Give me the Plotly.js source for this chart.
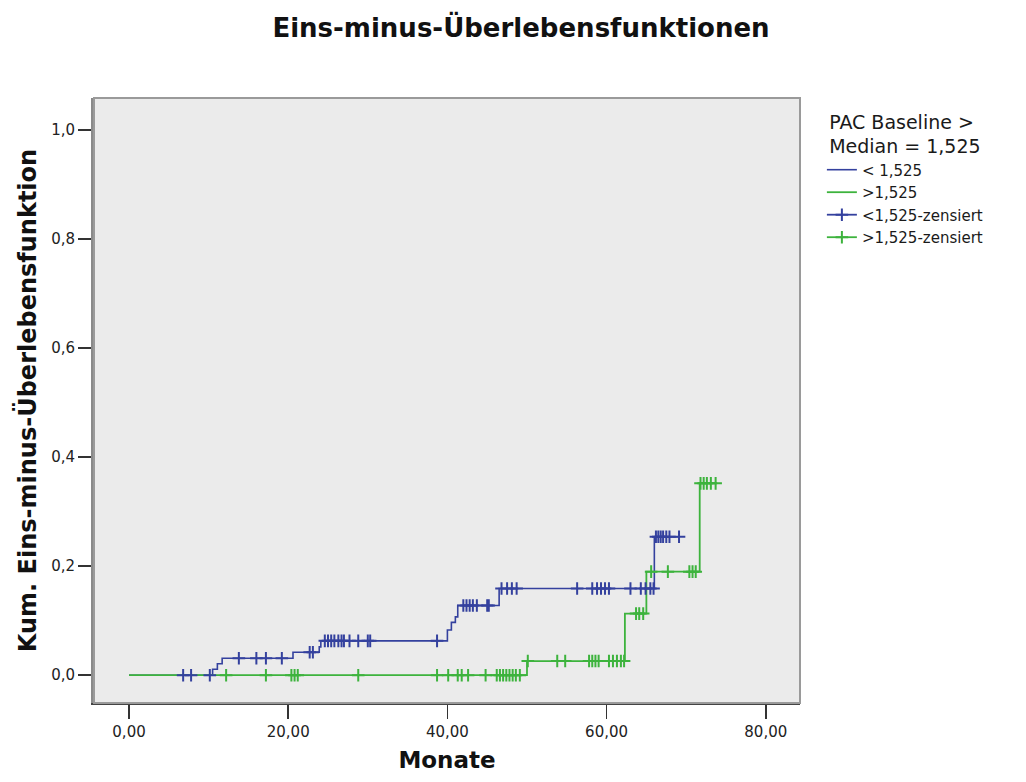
<!DOCTYPE html>
<html>
<head>
<meta charset="utf-8">
<script src="https://cdn.plot.ly/plotly-3.0.1.min.js"></script>
<style>
  html, body { margin: 0; padding: 0; background: #ffffff; }
  #chart { width: 1026px; height: 782px; }
</style>
</head>
<body>
<div id="chart"></div>
<script>
// Kaplan-Meier curves (cumulative incidence, 1 - S(t)) by PAC baseline group

// Group "< 1,525": event times and step levels
const lowTimes  = [0, 10.5, 11.1, 11.7, 20.6, 23.9, 24.1, 40.0, 40.5, 41.0, 41.3, 46.5, 66.0, 69.1];
const lowLevels = [0, 0.011, 0.021, 0.031, 0.042, 0.052, 0.063, 0.083, 0.097, 0.107, 0.128, 0.159, 0.254, 0.254];

// Group ">1,525": event times and step levels
const highTimes  = [0, 50.0, 62.3, 65.0, 71.7, 73.7];
const highLevels = [0, 0.026, 0.113, 0.190, 0.352, 0.352];

// Censored observations, "< 1,525"
const lowCensTimes = [6.8, 7.8, 10.15,
  13.8, 16.0, 17.2, 19.2,
  22.7, 23.1,
  24.6, 25.0, 25.4, 25.8, 26.3, 26.7, 27.0, 27.7, 28.8, 30.0, 30.3, 38.7,
  42.0, 42.4, 42.8, 43.2, 43.7, 45.0, 45.2,
  46.8, 47.5, 48.1, 48.7, 56.3, 58.2, 58.8, 59.3, 59.8, 60.3, 63.0, 64.3, 64.9, 65.5, 65.9,
  66.2, 66.5, 66.8, 67.1, 67.5, 67.9, 69.1];
const lowCensLevels = [0, 0, 0,
  0.031, 0.031, 0.031, 0.031,
  0.042, 0.042,
  0.063, 0.063, 0.063, 0.063, 0.063, 0.063, 0.063, 0.063, 0.063, 0.063, 0.063, 0.063,
  0.128, 0.128, 0.128, 0.128, 0.128, 0.128, 0.128,
  0.159, 0.159, 0.159, 0.159, 0.159, 0.159, 0.159, 0.159, 0.159, 0.159, 0.159, 0.159, 0.159, 0.159, 0.159,
  0.254, 0.254, 0.254, 0.254, 0.254, 0.254, 0.254];

// Censored observations, ">1,525"
const highCensTimes = [12.2, 17.2, 20.4, 20.8, 21.2, 28.8, 38.7, 40.1, 41.3, 41.8, 42.6, 44.8,
  46.2, 46.6, 47.0, 47.4, 47.8, 48.2, 48.6, 49.1,
  50.1, 53.8, 54.8, 57.8, 58.2, 58.6, 59.0, 60.3, 60.8, 61.3, 61.8, 62.2,
  63.7, 64.1, 64.6,
  65.6, 67.7, 70.4, 70.8, 71.2,
  71.8, 72.2, 72.6, 73.1, 73.7];
const highCensLevels = [0, 0, 0, 0, 0, 0, 0, 0, 0, 0, 0, 0,
  0, 0, 0, 0, 0, 0, 0, 0,
  0.026, 0.026, 0.026, 0.026, 0.026, 0.026, 0.026, 0.026, 0.026, 0.026, 0.026, 0.026,
  0.113, 0.113, 0.113,
  0.190, 0.190, 0.190, 0.190, 0.190,
  0.352, 0.352, 0.352, 0.352, 0.352];

const groupNames = ['< 1,525', '>1,525', '<1,525-zensiert', '>1,525-zensiert'];
const xTicks = [0, 20, 40, 60, 80];
const yTicks = [0, 0.2, 0.4, 0.6, 0.8, 1.0];

const blue = '#34419E';
const green = '#3DB33D';
const fontMain = 'DejaVu Sans, Verdana, sans-serif';

// Separate each censor mark with a gap so no line joins them in the plot,
// while the legend still shows a short line through the cross.
function gapped(arr) {
  const out = [];
  arr.forEach(v => { out.push(v); out.push(null); });
  return out;
}

const traces = [
  {
    x: lowTimes, y: lowLevels, name: groupNames[0],
    type: 'scatter', mode: 'lines',
    line: { color: blue, width: 1.6, shape: 'hv' }
  },
  {
    x: highTimes, y: highLevels, name: groupNames[1],
    type: 'scatter', mode: 'lines',
    line: { color: green, width: 1.8, shape: 'hv' }
  },
  {
    x: gapped(lowCensTimes), y: gapped(lowCensLevels), name: groupNames[2],
    type: 'scatter', mode: 'lines+markers', connectgaps: false,
    line: { color: blue, width: 1.8 },
    marker: { symbol: 'cross-thin-open', size: 9, color: blue, line: { color: blue, width: 2 } }
  },
  {
    x: gapped(highCensTimes), y: gapped(highCensLevels), name: groupNames[3],
    type: 'scatter', mode: 'lines+markers', connectgaps: false,
    line: { color: green, width: 1.8 },
    marker: { symbol: 'cross-thin-open', size: 9, color: green, line: { color: green, width: 2 } }
  }
];

const layout = {
  width: 1026, height: 782,
  margin: { l: 94, r: 226, t: 98, b: 79 },
  paper_bgcolor: '#ffffff',
  plot_bgcolor: '#EBEBEB',
  separators: ',.',
  font: { family: fontMain, color: '#1a1a1a' },
  title: {
    text: '<b>Eins-minus-Überlebensfunktionen</b>',
    font: { family: fontMain, size: 26, color: '#111' },
    x: 521 / 1026, xanchor: 'center', xref: 'container',
    y: 1 - 28 / 782, yanchor: 'middle', yref: 'container'
  },
  xaxis: {
    range: [-4.4, 84.3],
    tickvals: xTicks, tickformat: '.2f',
    ticks: 'outside', ticklen: 14, tickwidth: 1.5, tickcolor: '#333',
    tickfont: { family: fontMain, size: 15, color: '#222' },
    showgrid: false, zeroline: false,
    showline: true, linecolor: '#444', linewidth: 2,
    title: { text: '<b>Monate</b>', font: { family: fontMain, size: 23, color: '#111' }, standoff: 12 }
  },
  yaxis: {
    range: [-0.051, 1.059],
    tickvals: yTicks, tickformat: '.1f',
    ticks: 'outside', ticklen: 13, tickwidth: 1.5, tickcolor: '#333',
    tickfont: { family: fontMain, size: 15, color: '#222' },
    showgrid: false, zeroline: false,
    showline: true, linecolor: '#8a8a8a', linewidth: 3,
    title: { text: '<b>Kum. Eins-minus-Überlebensfunktion</b>', font: { family: fontMain, size: 24, color: '#111' }, standoff: 8 }
  },
  shapes: [
    {
      type: 'rect', xref: 'paper', yref: 'paper', x0: 0, x1: 1, y0: 0, y1: 1,
      line: { color: '#9a9a9a', width: 2 }, fillcolor: 'rgba(0,0,0,0)', layer: 'above'
    }
  ],
  legend: {
    x: 1.031, xanchor: 'left', y: 0.99, yanchor: 'top',
    bgcolor: 'rgba(0,0,0,0)',
    font: { family: fontMain, size: 15, color: '#1a1a1a' },
    title: { text: 'PAC Baseline ><br>Median = 1,525', side: 'top center', font: { family: fontMain, size: 19, color: '#1a1a1a' } },
    itemwidth: 30, tracegroupgap: 0
  },
  showlegend: true
};

Plotly.newPlot('chart', traces, layout, { staticPlot: true, displayModeBar: false });
</script>
</body>
</html>
